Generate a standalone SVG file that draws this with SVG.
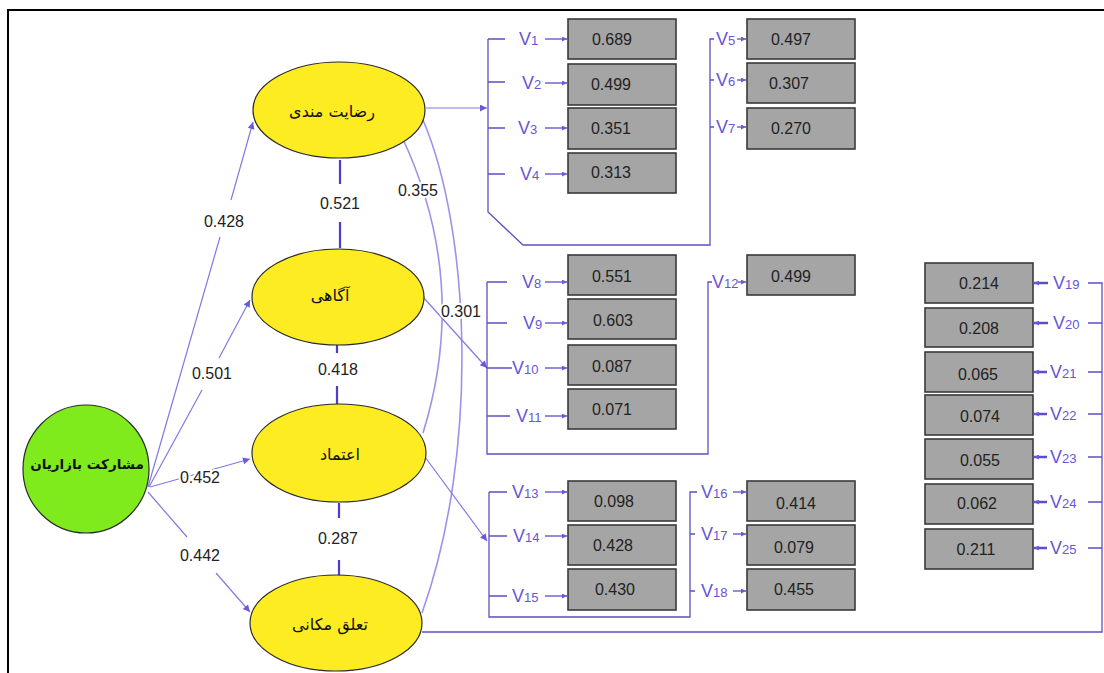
<svg xmlns="http://www.w3.org/2000/svg" width="1104" height="673" viewBox="0 0 1104 673">
<defs>
<style>
.frame{fill:none;stroke:#000;stroke-width:2}
.lat{fill:#fdec22;stroke:#2a2a2a;stroke-width:1.2}
.exo{fill:#7feb1d;stroke:#2a2a2a;stroke-width:1.2}
.box{fill:#a5a5a5;stroke:#3a3a3a;stroke-width:1.6}
.fa{font-family:"DejaVu Sans",sans-serif;font-size:16px;fill:#111;text-anchor:middle}
.fab{font-family:"DejaVu Sans",sans-serif;font-size:13.5px;font-weight:bold;fill:#111;text-anchor:middle}
.val{font-family:"Liberation Sans",Arial,sans-serif;font-size:16px;fill:#222;text-anchor:middle}
.coef{font-family:"Liberation Sans",Arial,sans-serif;font-size:16px;fill:#222;text-anchor:middle;stroke:#fff;stroke-width:4;paint-order:stroke}
.vl{font-family:"Liberation Sans",Arial,sans-serif;font-size:18px;fill:#6655d6}
.vl tspan{font-size:13px}
.path{fill:none;stroke:#8478e2;stroke-width:1.2}
.arc{fill:none;stroke:#9c92ea;stroke-width:1.6}
.cor{fill:none;stroke:#4a3ed0;stroke-width:2.2}
.br{fill:none;stroke:#5c4fc6;stroke-width:1.3}
.va{fill:none;stroke:#5c4fc6;stroke-width:1.3;marker-end:url(#as)}
.vr{fill:none;stroke:#5c4fc6;stroke-width:2.5;marker-end:url(#as)}
</style>
<marker id="ah" viewBox="0 0 10 10" refX="10" refY="5" markerWidth="9" markerHeight="7" markerUnits="userSpaceOnUse" orient="auto"><path d="M0,0 L10,5 L0,10 z" fill="#6a5ad8"/></marker>
<marker id="as" viewBox="0 0 10 10" refX="10" refY="5" markerWidth="7" markerHeight="5" markerUnits="userSpaceOnUse" orient="auto"><path d="M0,0 L10,5 L0,10 z" fill="#6a5ad8"/></marker>
</defs>
<rect x="0" y="0" width="1104" height="673" fill="#fff"/>
<path class="frame" d="M8,673 V10 H1104"/>

<g id="connectors">
  <path class="path" d="M148,487 L220,237 M231,200 L253,122" marker-end="url(#ah)"/>
  <path class="path" d="M149,487 L202,390 M219,358 L250,300" marker-end="url(#ah)"/>
  <path class="path" d="M150,487 L250,459" marker-end="url(#ah)"/>
  <path class="path" d="M148,492 L187,537 M216,573 L250,612" marker-end="url(#ah)"/>
  <path class="cor" d="M340,160 V184 M340,222 V248"/>
  <path class="cor" d="M337,344 V353 M337,386 V404"/>
  <path class="cor" d="M339,503 V518 M339,560 V576"/>
  <path class="arc" d="M402,137 Q470,282 423,433"/>
  <path class="arc" d="M423,120 C470,230 480,450 422,613"/>
  <path class="path" d="M426,108 H487" marker-end="url(#ah)"/>
  <path class="path" d="M423,297 L487,368" marker-end="url(#ah)"/>
  <path class="path" d="M425,457 L487,541" marker-end="url(#ah)"/>
  <path class="br" d="M488,39 V212 L523,245 H710 V39 H714"/>
  <path class="br" d="M488,39 H505 M488,82 H505 M488,128 H505 M488,174 H505 M710,80 H714 M710,127 H714"/>
  <path class="va" d="M545,39 H567"/><path class="va" d="M545,83 H567"/><path class="va" d="M545,128 H567"/><path class="va" d="M545,174 H567"/>
  <path class="va" d="M737,39 H746"/><path class="va" d="M737,80 H746"/><path class="va" d="M737,127 H746"/>
  <path class="br" d="M487,282 V454 H708 V282 H712"/>
  <path class="br" d="M487,282 H507 M487,323 H507 M487,368 H512 M487,416 H510"/>
  <path class="va" d="M545,282 H567"/><path class="va" d="M545,323 H567"/><path class="va" d="M545,368 H567"/><path class="va" d="M545,416 H567"/>
  <path class="va" d="M738,282 H746"/>
  <path class="br" d="M489,492 V617 H690 V492 H697"/>
  <path class="br" d="M489,492 H507 M489,536 H507 M489,596 H507 M690,534 H695 M690,591 H695"/>
  <path class="va" d="M545,492 H567"/><path class="va" d="M545,536 H567"/><path class="va" d="M545,596 H567"/>
  <path class="va" d="M733,492 H746"/><path class="va" d="M733,534 H746"/><path class="va" d="M733,591 H746"/>
  <path class="br" d="M422,632 H1102 V283 H1088 M1102,323 H1088 M1102,372 H1088 M1102,414 H1088 M1102,457 H1088 M1102,502 H1088 M1102,548 H1088"/>
  <path class="vr" d="M1048,283 H1034"/><path class="vr" d="M1048,323 H1034"/><path class="vr" d="M1047,372 H1034"/><path class="vr" d="M1047,414 H1034"/>
  <path class="vr" d="M1047,457 H1034"/><path class="vr" d="M1047,502 H1034"/><path class="vr" d="M1047,548 H1034"/>
  <text class="coef" x="224" y="227">0.428</text>
  <text class="coef" x="212" y="379">0.501</text>
  <text class="coef" x="200" y="483">0.452</text>
  <text class="coef" x="200" y="561">0.442</text>
  <text class="coef" x="340" y="209">0.521</text>
  <text class="coef" x="338" y="375">0.418</text>
  <text class="coef" x="338" y="544">0.287</text>
  <text class="coef" x="418" y="196">0.355</text>
  <text class="coef" x="461" y="317">0.301</text>
  <text class="vl" x="519" y="45">V<tspan>1</tspan></text>
  <text class="vl" x="522" y="89">V<tspan>2</tspan></text>
  <text class="vl" x="518" y="134">V<tspan>3</tspan></text>
  <text class="vl" x="520" y="180">V<tspan>4</tspan></text>
  <text class="vl" x="716" y="45">V<tspan>5</tspan></text>
  <text class="vl" x="716" y="86">V<tspan>6</tspan></text>
  <text class="vl" x="716" y="133">V<tspan>7</tspan></text>
  <text class="vl" x="522" y="288">V<tspan>8</tspan></text>
  <text class="vl" x="523" y="329">V<tspan>9</tspan></text>
  <text class="vl" x="512" y="374">V<tspan>10</tspan></text>
  <text class="vl" x="516" y="422">V<tspan>11</tspan></text>
  <text class="vl" x="712" y="288">V<tspan>12</tspan></text>
  <text class="vl" x="512" y="498">V<tspan>13</tspan></text>
  <text class="vl" x="513" y="542">V<tspan>14</tspan></text>
  <text class="vl" x="512" y="602">V<tspan>15</tspan></text>
  <text class="vl" x="701" y="498">V<tspan>16</tspan></text>
  <text class="vl" x="701" y="540">V<tspan>17</tspan></text>
  <text class="vl" x="701" y="597">V<tspan>18</tspan></text>
  <text class="vl" x="1053" y="289">V<tspan>19</tspan></text>
  <text class="vl" x="1053" y="329">V<tspan>20</tspan></text>
  <text class="vl" x="1050" y="378">V<tspan>21</tspan></text>
  <text class="vl" x="1050" y="420">V<tspan>22</tspan></text>
  <text class="vl" x="1050" y="463">V<tspan>23</tspan></text>
  <text class="vl" x="1050" y="508">V<tspan>24</tspan></text>
  <text class="vl" x="1050" y="554">V<tspan>25</tspan></text>
</g>

<g id="node-participation"><ellipse class="exo" cx="86" cy="469" rx="63" ry="64"/><text class="fab" x="87" y="469">مشارکت بازاریان</text></g>
<g id="node-satisfaction"><ellipse class="lat" cx="339" cy="110" rx="86" ry="48"/><text class="fa" x="332" y="117">رضایت مندی</text></g>
<g id="node-awareness"><ellipse class="lat" cx="338" cy="297" rx="86" ry="48"/><text class="fa" x="330" y="301">آگاهی</text></g>
<g id="node-trust"><ellipse class="lat" cx="339" cy="453" rx="87" ry="49"/><text class="fa" x="340" y="460">اعتماد</text></g>
<g id="node-attachment"><ellipse class="lat" cx="336" cy="623" rx="86" ry="48"/><text class="fa" x="330" y="630">تعلق مکانی</text></g>

<g id="box-v1"><rect class="box" x="568" y="19" width="108" height="40"/><text class="val" x="612" y="45">0.689</text></g>
<g id="box-v2"><rect class="box" x="568" y="64" width="108" height="41"/><text class="val" x="611" y="90">0.499</text></g>
<g id="box-v3"><rect class="box" x="568" y="108" width="108" height="41"/><text class="val" x="611" y="134">0.351</text></g>
<g id="box-v4"><rect class="box" x="568" y="153" width="108" height="40"/><text class="val" x="611" y="178">0.313</text></g>
<g id="box-v5"><rect class="box" x="747" y="19" width="108" height="40"/><text class="val" x="791" y="45">0.497</text></g>
<g id="box-v6"><rect class="box" x="747" y="63" width="108" height="40"/><text class="val" x="789" y="89">0.307</text></g>
<g id="box-v7"><rect class="box" x="747" y="108" width="108" height="41"/><text class="val" x="791" y="134">0.270</text></g>
<g id="box-v8"><rect class="box" x="568" y="255" width="108" height="40"/><text class="val" x="612" y="282">0.551</text></g>
<g id="box-v9"><rect class="box" x="568" y="299" width="108" height="40"/><text class="val" x="613" y="326">0.603</text></g>
<g id="box-v10"><rect class="box" x="568" y="345" width="108" height="40"/><text class="val" x="612" y="372">0.087</text></g>
<g id="box-v11"><rect class="box" x="568" y="389" width="108" height="40"/><text class="val" x="612" y="415">0.071</text></g>
<g id="box-v12"><rect class="box" x="747" y="255" width="108" height="40"/><text class="val" x="791" y="282">0.499</text></g>
<g id="box-v13"><rect class="box" x="568" y="481" width="108" height="40"/><text class="val" x="614" y="507">0.098</text></g>
<g id="box-v14"><rect class="box" x="568" y="525" width="108" height="40"/><text class="val" x="613" y="551">0.428</text></g>
<g id="box-v15"><rect class="box" x="568" y="569" width="108" height="41"/><text class="val" x="615" y="595">0.430</text></g>
<g id="box-v16"><rect class="box" x="747" y="481" width="108" height="40"/><text class="val" x="796" y="509">0.414</text></g>
<g id="box-v17"><rect class="box" x="747" y="525" width="108" height="40"/><text class="val" x="794" y="553">0.079</text></g>
<g id="box-v18"><rect class="box" x="747" y="569" width="108" height="41"/><text class="val" x="794" y="595">0.455</text></g>
<g id="box-v19"><rect class="box" x="925" y="263" width="108" height="40"/><text class="val" x="979" y="289">0.214</text></g>
<g id="box-v20"><rect class="box" x="925" y="308" width="108" height="39"/><text class="val" x="979" y="334">0.208</text></g>
<g id="box-v21"><rect class="box" x="925" y="352" width="108" height="40"/><text class="val" x="978" y="380">0.065</text></g>
<g id="box-v22"><rect class="box" x="925" y="395" width="108" height="40"/><text class="val" x="980" y="422">0.074</text></g>
<g id="box-v23"><rect class="box" x="925" y="439" width="108" height="40"/><text class="val" x="980" y="466">0.055</text></g>
<g id="box-v24"><rect class="box" x="925" y="484" width="108" height="40"/><text class="val" x="977" y="509">0.062</text></g>
<g id="box-v25"><rect class="box" x="925" y="529" width="108" height="40"/><text class="val" x="976" y="555">0.211</text></g>
</svg>
